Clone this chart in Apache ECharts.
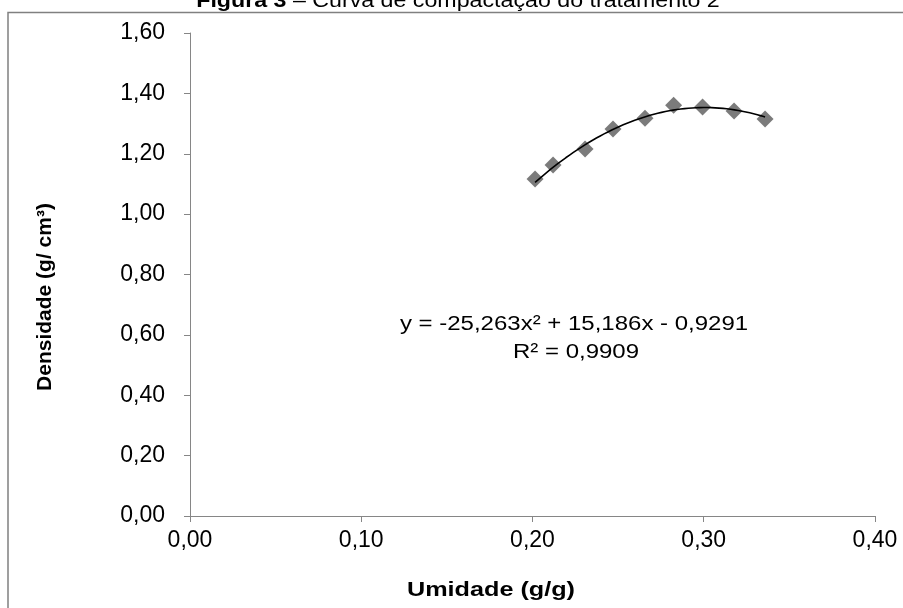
<!DOCTYPE html>
<html>
<head>
<meta charset="utf-8">
<script src="https://cdn.jsdelivr.net/npm/echarts@6/dist/echarts.min.js"></script>
<style>
html,body{margin:0;padding:0;background:#fff;}
#chart{width:903px;height:608px;}
</style>
</head>
<body>
<div id="chart"></div>
<script>
// Data
var umidade = [0.2015, 0.212, 0.2307, 0.247, 0.2657, 0.2824, 0.2993, 0.3177, 0.3358];
var densidade = [1.116, 1.163, 1.216, 1.282, 1.318, 1.361, 1.355, 1.342, 1.315];
// Trendline coefficients as printed on the chart: y = a x^2 + b x + c
var coefA = -25.263, coefB = 15.186, coefC = -0.9291;
var xTicks = ['0,00', '0,10', '0,20', '0,30', '0,40'];
var yTicks = ['0,00', '0,20', '0,40', '0,60', '0,80', '1,00', '1,20', '1,40', '1,60'];
var titleBold = 'Figura 3';
var titleRest = ' – Curva de compactação do tratamento 2';
var xName = 'Umidade (g/g)';
var yName = 'Densidade (g/ cm³)';
var eqText = 'y = -25,263x² + 15,186x - 0,9291';
var r2Text = 'R² = 0,9909';

var pts = umidade.map(function (x, i) { return [x, densidade[i]]; });
var trend = [];
var x0 = umidade[0], x1 = umidade[umidade.length - 1];
for (var k = 0; k <= 60; k++) {
  var x = x0 + (x1 - x0) * k / 60;
  trend.push([x, coefA * x * x + coefB * x + coefC]);
}

var FONT = '"Liberation Sans", Arial, sans-serif';
var chart = echarts.init(document.getElementById('chart'), null, {renderer: 'canvas'});
chart.setOption({
  backgroundColor: '#ffffff',
  animation: false,
  grid: {left: 190, right: 28, top: 33, bottom: 92, containLabel: false},
  xAxis: {
    type: 'value', min: 0, max: 0.4, interval: 0.1,
    axisLine: {show: true, lineStyle: {color: '#868686', width: 1}},
    axisTick: {show: true, inside: false, length: 6, lineStyle: {color: '#868686'}},
    splitLine: {show: false},
    axisLabel: {
      margin: 13, color: '#000', fontSize: 23, fontFamily: FONT,
      formatter: function (v) { return xTicks[Math.round(v * 10)]; }
    }
  },
  yAxis: {
    type: 'value', min: 0, max: 1.6, interval: 0.2,
    axisLine: {show: true, lineStyle: {color: '#868686', width: 1}},
    axisTick: {show: true, inside: false, length: 6, lineStyle: {color: '#868686'}},
    splitLine: {show: false},
    axisLabel: {
      margin: 25, color: '#000', fontSize: 23, fontFamily: FONT,
      formatter: function (v) { return yTicks[Math.round(v * 5)]; }
    }
  },
  series: [
    {
      type: 'scatter', data: pts, symbol: 'diamond', symbolSize: 17,
      itemStyle: {color: '#5a5a5a'}, z: 2
    },
    {
      type: 'line', data: trend, showSymbol: false, symbol: 'none', smooth: false,
      lineStyle: {color: '#000', width: 1.6}, z: 3
    }
  ],
  graphic: [
    {type: 'rect', shape: {x: 8, y: 12.5, width: 1000, height: 1000}, style: {fill: 'none', stroke: '#808080', lineWidth: 1.5}, silent: true, z: -1},
    {type: 'text', x: 458, y: 1, scaleX: 1.16, style: {
      text: '{b|' + titleBold + '}{n|' + titleRest + '}', textAlign: 'center', textVerticalAlign: 'middle',
      rich: {b: {fontSize: 20, fontWeight: 'bold', fontFamily: FONT, fill: '#000'}, n: {fontSize: 20, fontFamily: FONT, fill: '#000'}}
    }},
    {type: 'text', x: 491, y: 590, scaleX: 1.2, style: {text: xName, textAlign: 'center', textVerticalAlign: 'middle', font: 'bold 21px ' + FONT, fill: '#000'}},
    {type: 'text', x: 45, y: 297, rotation: Math.PI / 2, style: {text: yName, textAlign: 'center', textVerticalAlign: 'middle', font: 'bold 21px ' + FONT, fill: '#000'}},
    {type: 'text', x: 574, y: 324, scaleX: 1.2, style: {text: eqText, textAlign: 'center', textVerticalAlign: 'middle', font: '20px ' + FONT, fill: '#000'}},
    {type: 'text', x: 576, y: 352, scaleX: 1.2, style: {text: r2Text, textAlign: 'center', textVerticalAlign: 'middle', font: '20px ' + FONT, fill: '#000'}}
  ]
});
</script>
</body>
</html>
